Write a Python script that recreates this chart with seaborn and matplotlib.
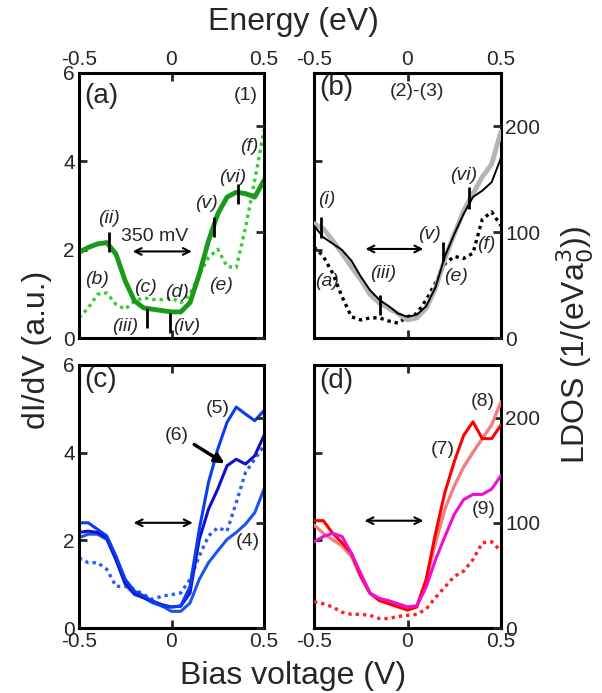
import matplotlib
matplotlib.use("Agg")
import matplotlib.pyplot as plt
import numpy as np
import pandas as pd
import seaborn as sns

sns.set_theme(style="white")
plt.rcParams["font.family"] = ["Liberation Sans", "DejaVu Sans"]

# bias voltage grid (V)
bias = [-0.5, -0.45, -0.4, -0.35, -0.3, -0.25, -0.2, -0.15, -0.1, -0.05,
        0.0, 0.05, 0.1, 0.15, 0.2, 0.25, 0.3, 0.35, 0.4, 0.45, 0.5]

# (a) dI/dV (a.u.)
a_spec1 = [1.94, 2.05, 2.13, 2.16, 1.90, 1.29, 0.84, 0.68, 0.65, 0.62,
           0.59, 0.59, 0.80, 1.44, 2.20, 2.81, 3.19, 3.30, 3.27, 3.19, 3.57]
a_dotted = [0.46, 0.68, 0.99, 1.02, 0.76, 0.65, 0.84, 0.91, 0.87, 0.87,
            0.91, 0.80, 0.99, 1.44, 1.82, 2.01, 1.62, 1.59, 2.50, 3.57, 4.71]
a_mark_x = [-0.34, -0.135, -0.01, 0.228, 0.36]
a_mark_lo = [1.95, 0.23, 0.11, 2.28, 3.04]
a_mark_hi = [2.40, 0.68, 0.57, 2.73, 3.49]

# (b) LDOS (1/(eV a0^3))
b_black = [106, 95, 89, 83, 73, 58, 45, 36, 30, 23,
           20, 22, 30, 48, 77, 98, 117, 133, 139, 147, 170]
b_gray = [108, 103, 92, 80, 67, 55, 41, 33, 28, 23,
          17, 19, 28, 47, 75, 98, 120, 136, 152, 164, 195]
b_dotted = [86, 77, 61, 39, 20, 17, 19, 19, 16, 14,
            20, 23, 36, 52, 70, 77, 75, 80, 112, 119, 106]
b_mark_x = [-0.465, -0.145, 0.19, 0.33]
b_mark_lo = [94, 22, 73, 122]
b_mark_hi = [114, 41, 91, 142]

# (c) dI/dV (a.u.)
c_spec5 = [2.40, 2.40, 2.25, 2.10, 1.64, 1.11, 0.84, 0.73, 0.61, 0.50,
           0.48, 0.50, 0.95, 2.25, 3.32, 4.08, 4.69, 5.04, 4.88, 4.73, 4.96]
c_spec6 = [2.18, 2.21, 2.18, 2.06, 1.56, 1.03, 0.80, 0.69, 0.61, 0.53,
           0.48, 0.50, 0.80, 2.02, 2.71, 3.17, 3.70, 3.85, 3.74, 3.93, 4.39]
c_spec4 = [2.06, 2.14, 2.14, 2.02, 1.56, 0.99, 0.76, 0.69, 0.57, 0.50,
           0.38, 0.38, 0.57, 1.11, 1.49, 1.76, 2.02, 2.18, 2.37, 2.63, 3.17]
c_dotted = [1.60, 1.49, 1.49, 1.34, 0.95, 0.95, 0.88, 0.76, 0.65, 0.73,
            0.76, 0.80, 1.11, 1.64, 2.10, 2.29, 2.21, 2.86, 3.55, 3.85, 4.16]

# (d) LDOS (1/(eV a0^3))
d_spec7 = [102, 102, 90, 81, 71, 49, 33, 26, 23, 20,
           17, 20, 46, 90, 129, 158, 183, 196, 180, 180, 193]
d_spec8 = [98, 90, 84, 78, 68, 49, 33, 28, 25, 21,
           20, 21, 46, 81, 113, 135, 153, 167, 180, 193, 215]
d_spec9 = [82, 87, 90, 87, 71, 52, 33, 28, 26, 23,
           20, 21, 39, 65, 87, 108, 122, 127, 127, 132, 145]
d_dotted = [25, 23, 20, 15, 13, 13, 12, 9, 9, 11,
            12, 13, 18, 29, 39, 49, 54, 65, 81, 82, 73]

LDOS_MAX = 250
DIDV_MAX = 6

fig = plt.figure(figsize=(6.02, 6.93), dpi=100)
W, H = 602, 693


def make_ax(x0, y0, x1, y1):
    return fig.add_axes([x0 / W, 1 - y1 / H, (x1 - x0) / W, (y1 - y0) / H])


ax_a = make_ax(79, 73, 264, 338)
ax_b = make_ax(314, 73, 501, 338)
ax_c = make_ax(79, 365, 264, 628)
ax_d = make_ax(314, 365, 501, 628)

tick_kw = dict(direction="in", length=6, width=2, labelsize=15, pad=3)


def frame(ax, top_labels, left_labels):
    ax.set_xlim(-0.5, 0.5)
    ax.set_ylim(0, DIDV_MAX)
    ax.set_xticks([-0.5, 0, 0.5])
    ax.set_xticklabels(["-0.5", "0", "0.5"])
    ax.set_yticks([0, 2, 4, 6])
    ax.tick_params(axis="x", top=True, bottom=True, labeltop=top_labels,
                   labelbottom=not top_labels, **tick_kw)
    ax.tick_params(axis="y", left=True, right=False, labelleft=left_labels,
                   **tick_kw)
    for s in ax.spines.values():
        s.set_linewidth(2.2)
        s.set_color("black")
    ax.set_xlabel("")
    ax.set_ylabel("")
    tw = ax.twinx()
    tw.set_ylim(0, LDOS_MAX)
    tw.set_yticks([0, 100, 200])
    tw.tick_params(axis="y", right=True, labelright=not left_labels, **tick_kw)
    for s in tw.spines.values():
        s.set_visible(False)
    tw.grid(False)
    return tw


tw_a = frame(ax_a, True, True)
tw_b = frame(ax_b, True, False)
tw_c = frame(ax_c, False, True)
tw_d = frame(ax_d, False, False)

it = dict(fontsize=14, style="italic", ha="center", va="center")
nt = dict(fontsize=14, ha="center", va="center")
pt = dict(fontsize=20, ha="left", va="center")

# ---- (a)
sns.lineplot(x=bias, y=a_dotted, ax=ax_a, color="#33cc33", lw=2.4, ls=(0, (1, 1.2)))
sns.lineplot(x=bias, y=a_spec1, ax=ax_a, color="#1a9a1a", lw=3.5)
ax_a.vlines(a_mark_x, a_mark_lo, a_mark_hi, color="black", lw=2)
ax_a.annotate("", xy=(-0.225, 1.96), xytext=(0.125, 1.96),
              arrowprops=dict(arrowstyle="<->", lw=1.5, color="black"))
ax_a.text(-0.47, 5.47, "(a)", **pt)
ax_a.text(0.4, 5.5, "(1)", **nt)
ax_a.text(-0.09, 2.3, "350 mV", **nt)
for lab, x, y in [("(ii)", -0.34, 2.7), ("(b)", -0.4, 1.33), ("(c)", -0.14, 1.14),
                  ("(d)", 0.03, 1.02), ("(iii)", -0.25, 0.27), ("(iv)", 0.08, 0.27),
                  ("(e)", 0.27, 1.18), ("(v)", 0.19, 3.04), ("(vi)", 0.33, 3.64),
                  ("(f)", 0.42, 4.33)]:
    ax_a.text(x, y, lab, **it)

# ---- (b)
sns.lineplot(x=bias, y=b_dotted, ax=tw_b, color="black", lw=2.4, ls=(0, (1, 1.2)))
sns.lineplot(x=bias, y=b_gray, ax=tw_b, color="#b4b4b4", lw=3.5)
sns.lineplot(x=bias, y=b_black, ax=tw_b, color="black", lw=1.4)
tw_b.vlines(b_mark_x, b_mark_lo, b_mark_hi, color="black", lw=2)
tw_b.annotate("", xy=(-0.24, 84), xytext=(0.1, 84),
              arrowprops=dict(arrowstyle="<->", lw=1.5, color="black"))
tw_b.text(-0.47, 236, "(b)", **pt)
tw_b.text(0.05, 233, "(2)-(3)", **nt)
for lab, x, y in [("(i)", -0.43, 131), ("(iii)", -0.13, 61), ("(a)", -0.43, 53),
                  ("(v)", 0.12, 98), ("(vi)", 0.3, 153), ("(f)", 0.42, 88),
                  ("(e)", 0.26, 58)]:
    tw_b.text(x, y, lab, **it)

# ---- (c)
sns.lineplot(x=bias, y=c_dotted, ax=ax_c, color="#2a5cff", lw=2.4, ls=(0, (1, 1.2)))
sns.lineplot(x=bias, y=c_spec4, ax=ax_c, color="#1a55f0", lw=2.2)
sns.lineplot(x=bias, y=c_spec6, ax=ax_c, color="#1010c8", lw=2.2)
sns.lineplot(x=bias, y=c_spec5, ax=ax_c, color="#0a3cf0", lw=2.2)
ax_c.annotate("", xy=(0.3, 3.72), xytext=(0.11, 4.22),
              arrowprops=dict(arrowstyle="-|>", lw=2.5, color="black",
                              mutation_scale=14))
ax_c.annotate("", xy=(-0.22, 2.4), xytext=(0.13, 2.4),
              arrowprops=dict(arrowstyle="<->", lw=1.5, color="black"))
ax_c.text(-0.47, 5.65, "(c)", **pt)
ax_c.text(0.25, 5.0, "(5)", **nt)
ax_c.text(0.03, 4.39, "(6)", **nt)
ax_c.text(0.41, 1.98, "(4)", **nt)

# ---- (d)
sns.lineplot(x=bias, y=d_dotted, ax=tw_d, color="#ff2020", lw=2.4, ls=(0, (1, 1.2)))
sns.lineplot(x=bias, y=d_spec8, ax=tw_d, color="#f08080", lw=2.4)
sns.lineplot(x=bias, y=d_spec7, ax=tw_d, color="#ff0000", lw=2.2)
sns.lineplot(x=bias, y=d_spec9, ax=tw_d, color="#ee10d0", lw=2.2)
tw_d.annotate("", xy=(-0.245, 102), xytext=(0.1, 102),
              arrowprops=dict(arrowstyle="<->", lw=1.5, color="black"))
tw_d.text(-0.47, 235, "(d)", **pt)
tw_d.text(0.4, 215, "(8)", **nt)
tw_d.text(0.19, 170, "(7)", **nt)
tw_d.text(0.41, 113, "(9)", **nt)

fig.text(293 / W, 1 - 22 / H, "Energy (eV)", fontsize=23, ha="center", va="center")
fig.text(293 / W, 1 - 676 / H, "Bias voltage (V)", fontsize=23, ha="center", va="center")
fig.text(37 / W, 1 - 350 / H, "dI/dV (a.u.)", fontsize=23, ha="center", va="center",
         rotation=90)
fig.text(575 / W, 1 - 345 / H, r"LDOS (1/(eVa$_0^3$))", fontsize=23, ha="center",
         va="center", rotation=90)

fig.savefig("out.png", dpi=100)
